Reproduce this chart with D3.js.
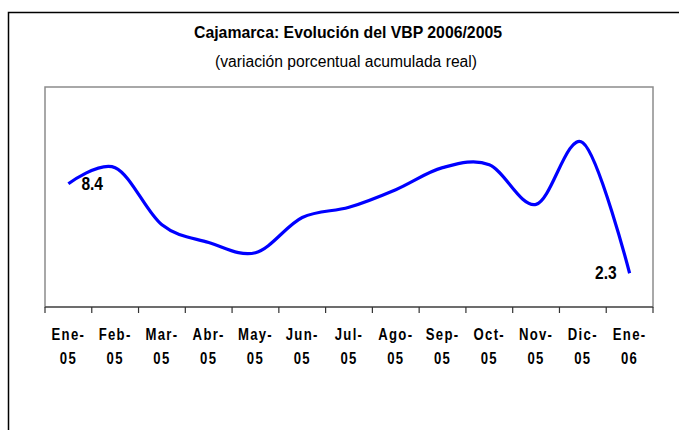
<!DOCTYPE html>
<html>
<head>
<meta charset="utf-8">
<script src="https://cdn.jsdelivr.net/npm/d3@7"></script>
<style>
  body { margin: 0; background: #fff; overflow: hidden; }
  text { font-family: "Liberation Sans", Arial, sans-serif; }
</style>
</head>
<body>
<svg id="chart" width="679" height="430"></svg>
<script>
// categories (month-year) and cumulative real % change of VBP
const months = ["Ene-05", "Feb-05", "Mar-05", "Abr-05", "May-05", "Jun-05", "Jul-05",
                "Ago-05", "Sep-05", "Oct-05", "Nov-05", "Dic-05", "Ene-06"];
const vbpVar = [8.4, 9.5, 5.6, 4.4, 3.7, 6.1, 6.8, 8.0, 9.5, 9.7, 7.0, 11.2, 2.3];
const labelled = ["Ene-05", "Ene-06"]; // points that carry a data label
const yDomain = [0, 15];

const title = "Cajamarca: Evolución del VBP 2006/2005";
const subtitle = "(variación porcentual acumulada real)";

const narrow = 0.82; // fake a narrow face by squeezing the regular one

const svg = d3.select("#chart");
const plot = { left: 45, top: 87, right: 653, bottom: 307 };

// outer chart frame (runs past the window on right / bottom)
svg.append("rect")
  .attr("x", 8.5).attr("y", 12.5)
  .attr("width", 800).attr("height", 600)
  .attr("fill", "#fff")
  .attr("stroke", "#000")
  .attr("stroke-width", 1.5);

svg.append("text")
  .attr("x", 194).attr("y", 38)
  .attr("font-size", 17).attr("font-weight", "bold")
  .attr("textLength", 308).attr("lengthAdjust", "spacingAndGlyphs")
  .text(title);

svg.append("text")
  .attr("x", 215).attr("y", 67)
  .attr("font-size", 16)
  .attr("textLength", 262).attr("lengthAdjust", "spacingAndGlyphs")
  .text(subtitle);

const x = d3.scaleBand().domain(months).range([plot.left, plot.right]).padding(0);
const y = d3.scaleLinear().domain(yDomain).range([plot.bottom, plot.top]);
const cx = (m) => x(m) + x.bandwidth() / 2;

// plot area border
svg.append("rect")
  .attr("x", plot.left).attr("y", plot.top)
  .attr("width", plot.right - plot.left)
  .attr("height", plot.bottom - plot.top)
  .attr("fill", "none")
  .attr("stroke", "#8c8c8c")
  .attr("stroke-width", 1.5);

// category axis: ticks sit on the band edges
const g = svg.append("g");
g.append("line")
  .attr("x1", plot.left).attr("x2", plot.right)
  .attr("y1", plot.bottom).attr("y2", plot.bottom)
  .attr("stroke", "#333").attr("stroke-width", 1.2);

const edges = months.map((m) => x(m)).concat([x.range()[1]]);
g.selectAll(".tick")
  .data(edges)
  .join("line")
  .attr("class", "tick")
  .attr("x1", (d) => d).attr("x2", (d) => d)
  .attr("y1", plot.bottom).attr("y2", plot.bottom + 6)
  .attr("stroke", "#333").attr("stroke-width", 1.2);

const lbl = g.selectAll(".xlabel")
  .data(months)
  .join("g")
  .attr("class", "xlabel")
  .attr("transform", (d) => `translate(${cx(d)},0) scale(${narrow},1)`);
lbl.append("text")
  .attr("y", 340)
  .attr("text-anchor", "middle")
  .attr("font-size", 16)
  .attr("font-weight", "bold")
  .attr("letter-spacing", 1.6)
  .text((d) => d.split("-")[0] + "-");
lbl.append("text")
  .attr("y", 364)
  .attr("text-anchor", "middle")
  .attr("font-size", 16)
  .attr("font-weight", "bold")
  .attr("letter-spacing", 1.6)
  .text((d) => d.split("-")[1]);

// smoothed line like the spreadsheet's "smoothed line" option
const line = d3.line()
  .x((d, i) => cx(months[i]))
  .y((d) => y(d))
  .curve(d3.curveCardinal.tension(0));

svg.append("path")
  .datum(vbpVar)
  .attr("fill", "none")
  .attr("stroke", "#0000ff")
  .attr("stroke-width", 3.2)
  .attr("stroke-linejoin", "round")
  .attr("d", line);

// data labels on first and last points
svg.selectAll(".dlabel")
  .data(labelled)
  .join("g")
  .attr("class", "dlabel")
  .attr("transform", (m, i) =>
    `translate(${cx(m) + (i === 0 ? 13 : -13)},${y(vbpVar[months.indexOf(m)]) + 6}) scale(${narrow},1)`)
  .append("text")
  .attr("text-anchor", (m, i) => (i === 0 ? "start" : "end"))
  .attr("font-size", 19)
  .attr("font-weight", "bold")
  .text((m) => vbpVar[months.indexOf(m)].toFixed(1));
</script>
</body>
</html>
